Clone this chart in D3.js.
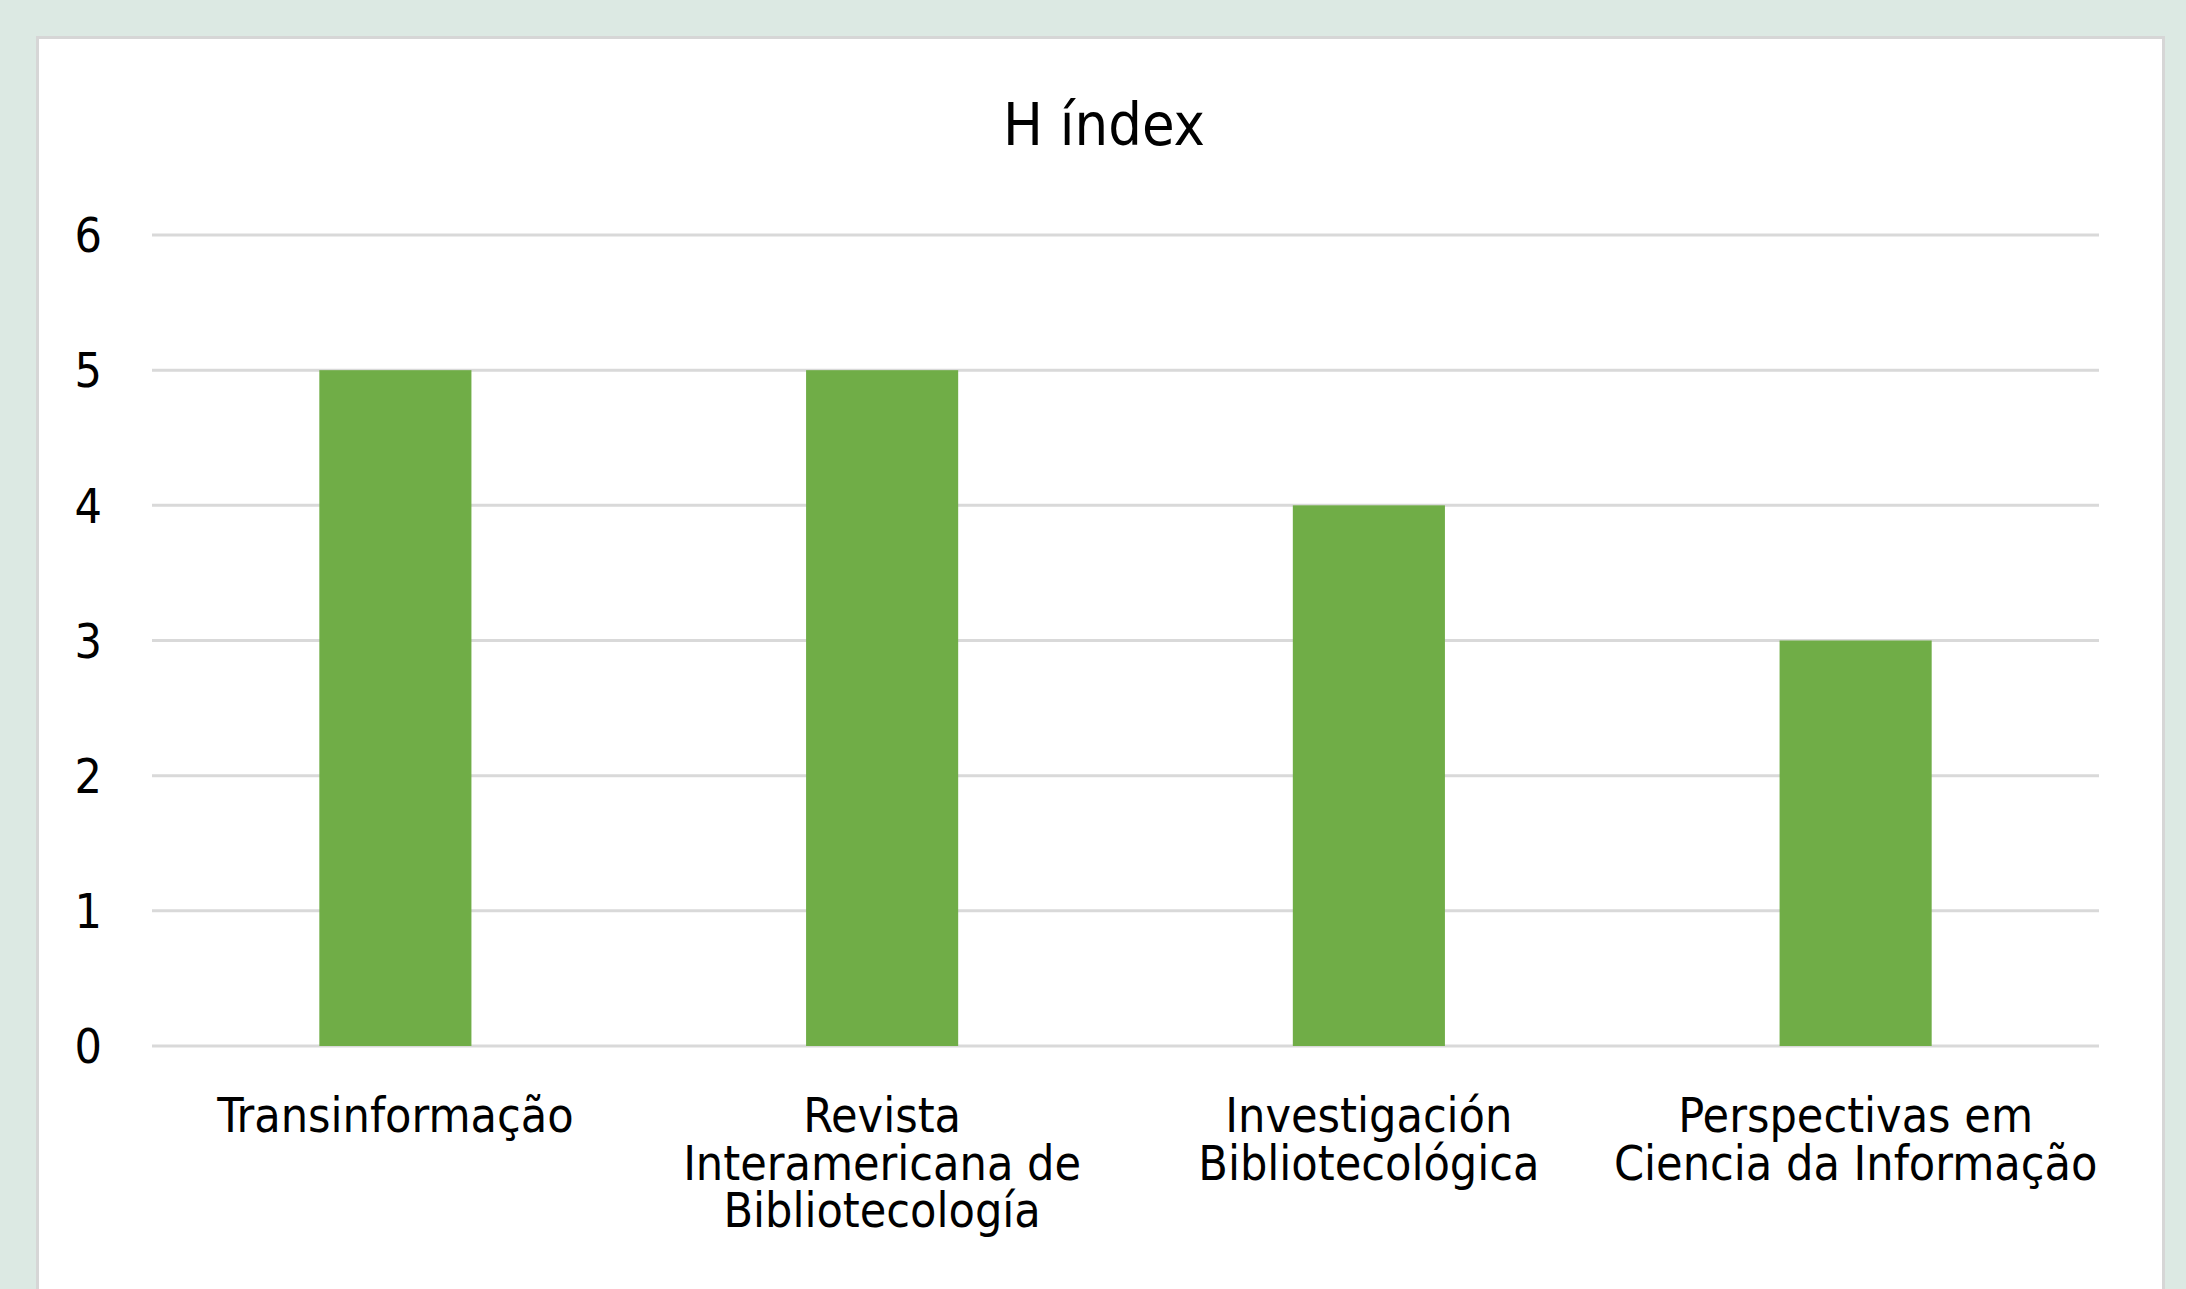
<!DOCTYPE html>
<html>
<head>
<meta charset="utf-8">
<style>
  body { margin: 0; background: #dce9e3; overflow: hidden; }
  svg { display: block; }
</style>
</head>
<body>
<svg width="2186" height="1289"></svg>
<script src="https://d3js.org/d3.v7.min.js"></script>
<script>
// chart data
var journals = [
  ["Transinformação"],
  ["Revista", "Interamericana de", "Bibliotecología"],
  ["Investigación", "Bibliotecológica"],
  ["Perspectivas em", "Ciencia da Informação"]
];
var hIndex = [5, 5, 4, 3];
var yTicks = [0, 1, 2, 3, 4, 5, 6];

var svg = d3.select("svg"),
    width = +svg.attr("width"),
    height = +svg.attr("height");
var font = "'DejaVu Sans Condensed', 'DejaVu Sans', sans-serif";

// white card
svg.append("rect")
    .attr("x", 37.5).attr("y", 37.5)
    .attr("width", 2126).attr("height", 1300)
    .attr("fill", "#fff")
    .attr("stroke", "#d6d6d6")
    .attr("stroke-width", 3);

var plotLeft = 152, plotRight = 2099, plotTop = 235, plotBottom = 1046;

var x = d3.scaleBand()
    .domain(d3.range(journals.length))
    .range([plotLeft, plotRight])
    .paddingInner(0.6875)
    .paddingOuter(0.34375);
var y = d3.scaleLinear()
    .domain([0, 6])
    .range([plotBottom, plotTop]);

// gridlines
svg.append("g")
  .selectAll("line")
  .data(yTicks)
  .enter().append("line")
    .attr("x1", plotLeft).attr("x2", plotRight)
    .attr("y1", function(d) { return y(d); })
    .attr("y2", function(d) { return y(d); })
    .attr("stroke", "#d9d9d9")
    .attr("stroke-width", 3);

// y labels
svg.append("g")
  .selectAll("text")
  .data(yTicks)
  .enter().append("text")
    .attr("x", 102)
    .attr("y", function(d) { return y(d); })
    .attr("dy", "0.36em")
    .attr("text-anchor", "end")
    .attr("font-family", font)
    .attr("font-size", 48)
    .attr("fill", "#000")
    .text(function(d) { return d; });

// bars
svg.append("g")
  .selectAll("rect")
  .data(hIndex)
  .enter().append("rect")
    .attr("x", function(d, i) { return x(i); })
    .attr("width", x.bandwidth())
    .attr("y", function(d) { return y(d); })
    .attr("height", function(d) { return y(0) - y(d); })
    .attr("fill", "#70ad47");

// category labels, one text per line
var catLines = [];
journals.forEach(function(lines, i) {
  lines.forEach(function(s, j) { catLines.push({i: i, j: j, s: s}); });
});
svg.append("g")
  .selectAll("text")
  .data(catLines)
  .enter().append("text")
    .attr("x", function(d) { return x(d.i) + x.bandwidth() / 2; })
    .attr("y", function(d) { return 1132 + d.j * 47.5; })
    .attr("text-anchor", "middle")
    .attr("font-family", font)
    .attr("font-size", 48)
    .attr("fill", "#000")
    .text(function(d) { return d.s; });

// title
svg.append("text")
    .attr("x", 1104)
    .attr("y", 145)
    .attr("text-anchor", "middle")
    .attr("font-family", font)
    .attr("font-size", 59)
    .attr("fill", "#000")
    .text("H índex");
</script>
</body>
</html>
